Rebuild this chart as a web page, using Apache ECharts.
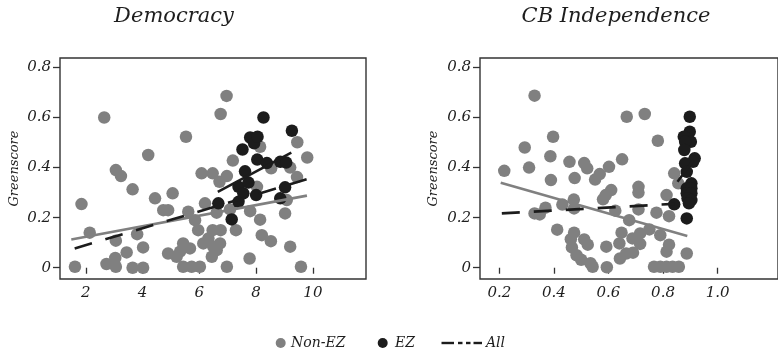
<!DOCTYPE html>
<html><head><meta charset="utf-8">
<script src="https://cdn.jsdelivr.net/npm/echarts@6/dist/echarts.min.js"></script>
<style>html,body{margin:0;padding:0;background:#fff}#c{width:778px;height:354px}</style>
</head><body><div id="c"></div>
<script>
// ---- Data: Democracy panel ----
const demoNonEZ = [[1.62,0.004],[1.85,0.254],[2.14,0.14],[2.65,0.60],[2.73,0.015],[3.04,0.039],[3.06,0.108],[3.06,0.004],[3.06,0.39],[3.24,0.366],[3.44,0.061],[3.65,0.313],[3.65,0.0],[3.81,0.134],[4.02,0.081],[4.02,0.0],[4.2,0.45],[4.44,0.277],[4.73,0.23],[4.9,0.23],[4.9,0.057],[5.06,0.297],[5.2,0.044],[5.32,0.064],[5.43,0.097],[5.43,0.004],[5.53,0.523],[5.61,0.224],[5.67,0.077],[5.73,0.004],[5.85,0.19],[5.96,0.15],[6.02,0.004],[6.08,0.377],[6.14,0.097],[6.2,0.257],[6.32,0.117],[6.44,0.044],[6.47,0.377],[6.47,0.15],[6.49,0.084],[6.61,0.22],[6.61,0.07],[6.71,0.343],[6.75,0.614],[6.73,0.097],[6.75,0.15],[6.96,0.686],[6.97,0.366],[6.97,0.004],[7.08,0.233],[7.18,0.428],[7.29,0.15],[7.79,0.226],[7.77,0.037],[8.03,0.323],[8.14,0.483],[8.14,0.192],[8.2,0.13],[8.53,0.397],[8.52,0.106],[9.02,0.217],[9.08,0.27],[9.2,0.40],[9.2,0.084],[9.44,0.362],[9.45,0.501],[9.58,0.004],[9.8,0.44]];
const demoEZ = [[6.67,0.257],[7.14,0.193],[7.38,0.263],[7.38,0.323],[7.52,0.472],[7.55,0.297],[7.61,0.385],[7.73,0.34],[7.79,0.52],[7.93,0.497],[8.05,0.523],[8.04,0.432],[8.0,0.29],[8.26,0.60],[8.38,0.418],[8.85,0.423],[8.85,0.277],[9.02,0.321],[9.06,0.42],[9.26,0.547]];
const demoFitNonEZ = [[1.49,0.113],[9.79,0.288]];
const demoFitEZ = [[6.65,0.303],[9.24,0.46]];
const demoFitAll = [[1.61,0.077],[9.99,0.36]];
const demoTicks = [2,4,6,8,10];

// ---- Data: CB Independence panel ----
const cbiNonEZ = [[0.218,0.387],[0.293,0.48],[0.309,0.40],[0.329,0.687],[0.329,0.217],[0.348,0.213],[0.369,0.24],[0.387,0.445],[0.389,0.35],[0.397,0.523],[0.412,0.152],[0.431,0.252],[0.457,0.423],[0.462,0.114],[0.466,0.081],[0.474,0.14],[0.473,0.272],[0.476,0.358],[0.474,0.237],[0.483,0.05],[0.50,0.032],[0.511,0.418],[0.511,0.113],[0.522,0.397],[0.524,0.092],[0.534,0.018],[0.542,0.004],[0.551,0.352],[0.568,0.374],[0.58,0.273],[0.59,0.29],[0.594,0.002],[0.592,0.084],[0.602,0.403],[0.61,0.31],[0.625,0.228],[0.64,0.097],[0.642,0.037],[0.648,0.14],[0.65,0.433],[0.665,0.057],[0.667,0.603],[0.676,0.19],[0.688,0.117],[0.69,0.06],[0.71,0.323],[0.71,0.30],[0.71,0.233],[0.716,0.137],[0.716,0.095],[0.733,0.614],[0.75,0.153],[0.767,0.004],[0.776,0.22],[0.781,0.507],[0.79,0.004],[0.79,0.13],[0.813,0.004],[0.813,0.29],[0.813,0.064],[0.822,0.092],[0.822,0.206],[0.835,0.004],[0.841,0.377],[0.856,0.337],[0.858,0.004],[0.887,0.057]];
const cbiEZ = [[0.898,0.603],[0.898,0.543],[0.876,0.523],[0.902,0.503],[0.881,0.503],[0.878,0.47],[0.916,0.437],[0.91,0.423],[0.881,0.417],[0.887,0.383],[0.904,0.337],[0.887,0.317],[0.904,0.317],[0.887,0.297],[0.904,0.297],[0.89,0.277],[0.904,0.27],[0.895,0.257],[0.841,0.253],[0.887,0.197]];
const cbiFitNonEZ = [[0.205,0.339],[0.889,0.127]];
const cbiFitEZ = [[0.853,0.343],[0.912,0.43]];
const cbiFitAll = [[0.209,0.217],[0.841,0.255]];
const cbiTicks = [0.2,0.4,0.6,0.8,1.0];

const yTicks = [0,0.2,0.4,0.6,0.8];
const titles = ['Democracy','CB Independence'];
const yName = 'Greenscore';
const legendLabels = ['Non-EZ','EZ','All'];

const GRAY = '#808080', BLACK = '#1c1c1c', FRAME = '#333333';
const FONT = '"DejaVu Serif", serif';
const tickFont = {fontFamily: FONT, fontStyle: 'italic', fontSize: 15, color: '#1e1e1e'};

function xAxis(grid, min, max, ticks, fmt) {
  return {
    type: 'value', gridIndex: grid, min: min, max: max,
    axisLine: {show: false}, splitLine: {show: false},
    axisTick: {show: true, inside: false, length: 6, customValues: ticks, lineStyle: {color: FRAME, width: 1.3}},
    axisLabel: Object.assign({customValues: ticks, margin: 7, formatter: fmt}, tickFont)
  };
}
function yAxis(grid, gap) {
  return {
    type: 'value', gridIndex: grid, min: -0.045, max: 0.8375,
    axisLine: {show: false}, splitLine: {show: false},
    axisTick: {show: true, inside: false, length: 7, customValues: yTicks, lineStyle: {color: FRAME, width: 1.3}},
    axisLabel: Object.assign({customValues: yTicks, margin: 9, formatter: v => v === 0 ? '0' : v.toFixed(1)}, tickFont),
    name: yName, nameLocation: 'middle', nameGap: gap, nameRotate: 90,
    nameTextStyle: {fontFamily: FONT, fontStyle: 'italic', fontSize: 13, color: '#1e1e1e'}
  };
}
function pts(data, color, xi) {
  return {type: 'scatter', xAxisIndex: xi, yAxisIndex: xi, data: data, symbolSize: 12.5,
    itemStyle: {color: color, opacity: 1}, silent: true, z: 2};
}
function ln(data, color, xi, dashed) {
  return {type: 'line', xAxisIndex: xi, yAxisIndex: xi, data: data, showSymbol: false, symbol: 'none',
    lineStyle: {color: color, width: 2.6, type: dashed ? [18, 14] : 'solid', cap: 'butt'}, silent: true, z: 3};
}

const chart = echarts.init(document.getElementById('c'), null, {renderer: 'canvas'});
chart.setOption({
  animation: false,
  backgroundColor: '#fff',
  grid: [
    {left: 60, top: 58, width: 306, height: 221, show: true, borderColor: FRAME, borderWidth: 1.4, backgroundColor: 'transparent'},
    {left: 480, top: 58, width: 320, height: 221, show: true, borderColor: FRAME, borderWidth: 1.4, backgroundColor: 'transparent'}
  ],
  xAxis: [
    xAxis(0, 1.093, 11.87, demoTicks, v => String(v)),
    xAxis(1, 0.129, 0.129 + 320 / 292.9, cbiTicks, v => v.toFixed(1))
  ],
  yAxis: [yAxis(0, 39), yAxis(1, 40)],
  series: [
    pts(demoNonEZ, GRAY, 0), pts(demoEZ, BLACK, 0),
    ln(demoFitNonEZ, GRAY, 0, false), ln(demoFitEZ, BLACK, 0, false), ln(demoFitAll, BLACK, 0, true),
    pts(cbiNonEZ, GRAY, 1), pts(cbiEZ, BLACK, 1),
    ln(cbiFitNonEZ, GRAY, 1, false), ln(cbiFitEZ, BLACK, 1, false), ln(cbiFitAll, BLACK, 1, true)
  ],
  graphic: [
    {type: 'text', x: 174, y: 17, style: {text: titles[0], font: 'italic 21px ' + FONT, fill: '#1e1e1e', align: 'center', verticalAlign: 'middle'}},
    {type: 'text', x: 616, y: 17, style: {text: titles[1], font: 'italic 21px ' + FONT, fill: '#1e1e1e', align: 'center', verticalAlign: 'middle'}},
    {type: 'circle', shape: {cx: 280.7, cy: 343, r: 5}, style: {fill: GRAY}},
    {type: 'text', x: 291, y: 343, style: {text: legendLabels[0], font: 'italic 14px ' + FONT, fill: '#1e1e1e', verticalAlign: 'middle'}},
    {type: 'circle', shape: {cx: 382.7, cy: 343, r: 5}, style: {fill: BLACK}},
    {type: 'text', x: 395, y: 343, style: {text: legendLabels[1], font: 'italic 14px ' + FONT, fill: '#1e1e1e', verticalAlign: 'middle'}},
    {type: 'line', shape: {x1: 441.5, y1: 343, x2: 454, y2: 343}, style: {stroke: BLACK, lineWidth: 2.4}},
    {type: 'line', shape: {x1: 458, y1: 343, x2: 462.5, y2: 343}, style: {stroke: BLACK, lineWidth: 2.4}},
    {type: 'line', shape: {x1: 466, y1: 343, x2: 470.5, y2: 343}, style: {stroke: BLACK, lineWidth: 2.4}},
    {type: 'line', shape: {x1: 473.5, y1: 343, x2: 482, y2: 343}, style: {stroke: BLACK, lineWidth: 2.4}},
    {type: 'text', x: 486, y: 343, style: {text: legendLabels[2], font: 'italic 14px ' + FONT, fill: '#1e1e1e', verticalAlign: 'middle'}}
  ]
});
</script>
</body></html>
